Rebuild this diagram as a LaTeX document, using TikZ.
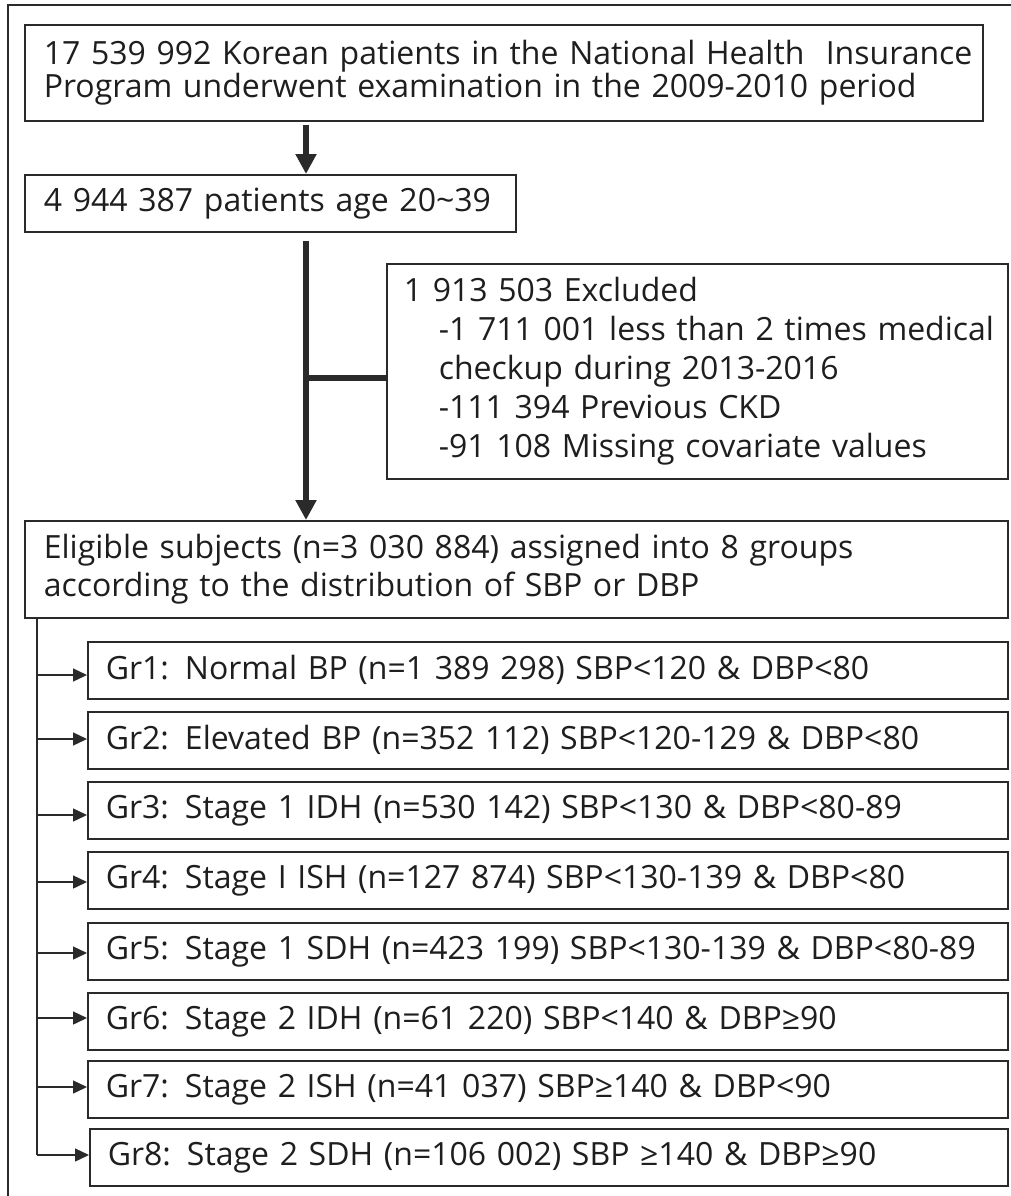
\documentclass[tikz,border=0pt]{standalone}
\usepackage{fontspec}
\setmainfont{Open Sans}
\usetikzlibrary{arrows.meta,calc}
\definecolor{linec}{HTML}{2A2A2A}
\definecolor{txt}{HTML}{1E1E1E}
\begin{document}
\begin{tikzpicture}[x=1pt,y=-1pt,
  box/.style={draw=linec, line width=1.6pt, anchor=north west, align=left,
    inner ysep=0pt, text=txt, font=\fontsize{32}{30}\selectfont},
  grp/.style={box, minimum height=57, inner xsep=18pt, text width=884pt},
  bigarrow/.style={draw=linec, line width=6pt, -{Triangle[length=20pt,width=20pt]}},
  thinline/.style={draw=linec, line width=1.4pt},
  smallarrow/.style={thinline, -{Triangle[length=14pt,width=13pt]}}
]
\useasboundingbox (0,0) rectangle (1011,1196);
\fill[white] (0,0) rectangle (1011,1196);
% outer frame (partly visible)
\draw[line width=1.8pt, draw=linec] (8,1196) -- (8,5) -- (1011,5);

\node[box, minimum height=96, inner xsep=19pt, text width=920pt] (b1) at (24,24)
  {\mbox{17 539 992 Korean patients in the National Health\ \ Insurance}\\
   \mbox{Program underwent examination in the 2009-2010 period}};
\node[box, minimum height=57, inner xsep=19pt, text width=453pt] (b2) at (24,174)
  {\mbox{4 944 387 patients age 20{\char"007E}39}};
\node[box, minimum height=215, inner xsep=17pt, text width=587pt,
  font=\fontsize{32}{39}\selectfont] (ex) at (386,263)
  {\mbox{1 913 503 Excluded}\\
   \mbox{\hspace*{35pt}-1 711 001 less than 2 times medical}\\
   \mbox{\hspace*{35pt}checkup during 2013-2016}\\
   \mbox{\hspace*{35pt}-111 394 Previous CKD}\\
   \mbox{\hspace*{35pt}-91 108 Missing covariate values}};
\node[box, minimum height=97, inner xsep=19pt, text width=945pt,
  font=\fontsize{32}{38}\selectfont] (b3) at (24,520)
  {\mbox{Eligible subjects (n=3 030 884) assigned into 8 groups}\\
   \mbox{according to the distribution of SBP or DBP}};

\node[grp] (g1) at (87,641)  {\mbox{Gr1: Normal BP (n=1 389 298) SBP<120 \& DBP<80}};
\node[grp] (g2) at (87,711)  {\mbox{Gr2: Elevated BP (n=352 112) SBP<120-129 \& DBP<80}};
\node[grp] (g3) at (87,781)  {\mbox{Gr3: Stage 1 IDH (n=530 142) SBP<130 \& DBP<80-89}};
\node[grp] (g4) at (87,851)  {\mbox{Gr4: Stage I ISH (n=127 874) SBP<130-139 \& DBP<80}};
\node[grp] (g5) at (87,922)  {\mbox{Gr5: Stage 1 SDH (n=423 199) SBP<130-139 \& DBP<80-89}};
\node[grp] (g6) at (87,992)  {\mbox{Gr6: Stage 2 IDH (n=61 220) SBP<140 \& DBP≥90}};
\node[grp] (g7) at (87,1060) {\mbox{Gr7: Stage 2 ISH (n=41 037) SBP≥140 \& DBP<90}};
\node[grp, text width=882pt] (g8) at (89,1128) {\mbox{Gr8: Stage 2 SDH (n=106 002) SBP ≥140 \& DBP≥90}};

% main flow
\draw[bigarrow, shorten <=3pt] ($(b1.south west)+(282,0)$) -- ($(b2.north west)+(282,0)$);
\draw[bigarrow, shorten <=8pt] ($(b2.south west)+(282,0)$) -- ($(b3.north west)+(282,0)$);
\coordinate (j) at (306,378);
\draw[draw=linec, line width=6pt] (j) -- (j -| ex.west);

% branches to groups
\coordinate (t0) at ($(b3.south west)+(13,0)$);
\coordinate (t1) at (37,675);
\coordinate (t2) at (37,739);
\coordinate (t3) at (37,815);
\coordinate (t4) at (37,882);
\coordinate (t5) at (37,953);
\coordinate (t6) at (37,1018);
\coordinate (t7) at (37,1087);
\coordinate (t8) at (37,1155);
\draw[thinline] (t0) -- (t8);
\foreach \i in {1,...,8} {
  \draw[smallarrow] (t\i) -- (t\i -| g\i.west);
}
\end{tikzpicture}
\end{document}
